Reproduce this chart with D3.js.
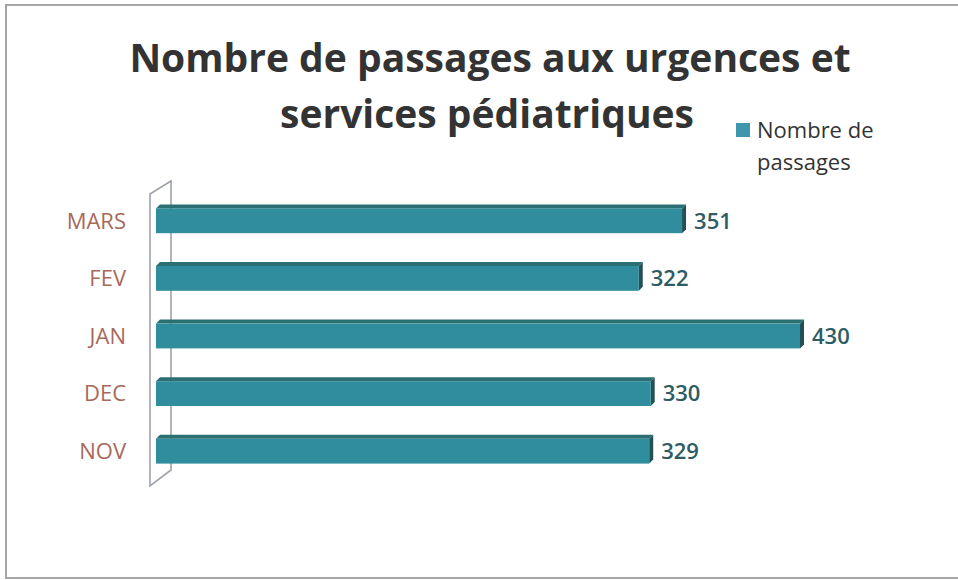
<!DOCTYPE html>
<meta charset="utf-8">
<style>
  body { margin: 0; background: #fff; }
  text { font-family: "Open Sans", Lato, sans-serif; }
  .title { font-weight: bold; fill: #333; font-size: 39px; }
  .cat { fill: #a8685a; font-size: 22px; }
  .val { fill: #2f5c62; font-size: 22px; font-weight: 600; }
  .legend text { fill: #333; font-size: 22px; }
</style>
<svg width="958" height="580"></svg>
<script src="https://cdn.jsdelivr.net/npm/d3@7"></script>
<script>

  var months = ["MARS", "FEV", "JAN", "DEC", "NOV"];
  var passages = [351, 322, 430, 330, 329];
  var titleLines = ["Nombre de passages aux urgences et", "services pédiatriques"];
  var legendLines = ["Nombre de", "passages"];

  var svg = d3.select("svg");

  // cadre
  svg.append("rect")
        .attr("x", 6).attr("y", 5)
        .attr("width", 960).attr("height", 573)
        .attr("fill", "#fff")
        .attr("stroke", "#a4a6aa")
        .attr("stroke-width", 2);

  var x = d3.scaleLinear().domain([0, 430]).range([158, 800]);
  var y = d3.scaleBand().domain(months).range([190, 478])
        .paddingInner(0.5).paddingOuter(0.25);

  // mur de l'axe (3D)
  svg.append("path")
        .attr("d", "M150,194 L171,181 L171,470 L150,486 Z")
        .attr("fill", "none")
        .attr("stroke", "#9ea3aa")
        .attr("stroke-width", 1.6);

  var depth = 4;
  var data = months.map(function (m, i) { return {m: m, v: passages[i]}; });

  var bars = svg.append("g").selectAll("g")
        .data(data)
        .enter().append("g");

  // face du dessus
  bars.append("path")
        .attr("fill", "#2a6f72")
        .attr("d", function (d) {
          var y0 = y(d.m), x0 = x(0), x1 = x(d.v);
          return "M" + (x0 - 2) + "," + (y0 + depth) + " L" + (x0 + depth - 2) + "," + y0 +
                 " L" + (x1 + depth) + "," + y0 + " L" + x1 + "," + (y0 + depth) + " Z";
        });
  // face de côté
  bars.append("path")
        .attr("fill", "#234f55")
        .attr("d", function (d) {
          var y0 = y(d.m), x1 = x(d.v), h = y.bandwidth();
          return "M" + x1 + "," + (y0 + depth) + " L" + (x1 + depth) + "," + y0 +
                 " L" + (x1 + depth) + "," + (y0 + h - depth) + " L" + x1 + "," + (y0 + h) + " Z";
        });
  // face avant
  bars.append("rect")
        .attr("x", x(0) - 2)
        .attr("y", function (d) { return y(d.m) + depth; })
        .attr("width", function (d) { return x(d.v) - x(0) + 2; })
        .attr("height", y.bandwidth() - depth)
        .attr("fill", "#2f8d9e");

  // étiquettes de valeur
  bars.append("text")
        .attr("class", "val")
        .attr("x", function (d) { return x(d.v) + 12; })
        .attr("y", function (d) { return y(d.m) + y.bandwidth() / 2 + 2; })
        .attr("dy", "0.35em")
        .text(function (d) { return d.v; });

  // catégories
  svg.append("g").selectAll("text")
        .data(months)
        .enter().append("text")
        .attr("class", "cat")
        .attr("x", 126)
        .attr("y", function (d) { return y(d) + y.bandwidth() / 2 + 2; })
        .attr("dy", "0.35em")
        .attr("text-anchor", "end")
        .text(function (d) { return d; });

  // titre
  svg.append("g").selectAll("text")
        .data(titleLines)
        .enter().append("text")
        .attr("class", "title")
        .attr("x", function (d, i) { return i ? 487 : 490; })
        .attr("y", function (d, i) { return 72 + i * 56; })
        .attr("text-anchor", "middle")
        .text(function (d) { return d; });

  // légende
  var legend = svg.append("g").attr("class", "legend");
  legend.append("rect")
        .attr("x", 736).attr("y", 123)
        .attr("width", 14).attr("height", 14)
        .attr("fill", "#3f97ad");
  legend.selectAll("text")
        .data(legendLines)
        .enter().append("text")
        .attr("x", 757)
        .attr("y", function (d, i) { return 138 + i * 32; })
        .text(function (d) { return d; });

</script>
